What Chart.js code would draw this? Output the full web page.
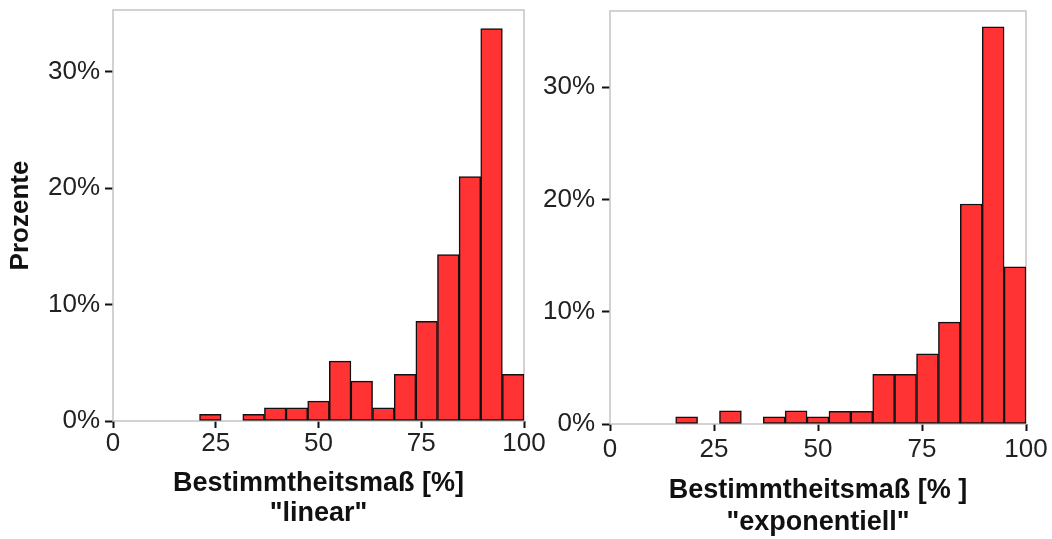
<!DOCTYPE html>
<html>
<head>
<meta charset="utf-8">
<script src="https://cdn.jsdelivr.net/npm/chart.js@4/dist/chart.umd.min.js"></script>
<style>
  body { margin: 0; background: #fff; }
  canvas { position: absolute; top: 0; }
</style>
</head>
<body>
<canvas id="chartLinear" width="560" height="539" style="left:0"></canvas>
<canvas id="chartExp" width="532" height="539" style="left:520px"></canvas>
<script>
// histogram bins (Bestimmtheitsmaß, 19 bins from 0 to 100)
const bins = ['0-5.3', '5.3-10.5', '10.5-15.8', '15.8-21.1', '21.1-26.3', '26.3-31.6',
  '31.6-36.8', '36.8-42.1', '42.1-47.4', '47.4-52.6', '52.6-57.9', '57.9-63.2',
  '63.2-68.4', '68.4-73.7', '73.7-78.9', '78.9-84.2', '84.2-89.5', '89.5-94.7', '94.7-100'];

// percentages per bin
const linearValues = [null, null, null, null, 0.57, null, 0.57, 1.14, 1.14, 1.71,
  5.14, 3.43, 1.14, 4.0, 8.57, 14.29, 21.0, 33.7, 4.0];
const expValues = [null, null, null, 0.65, null, 1.18, null, 0.65, 1.18, 0.65,
  1.12, 1.12, 4.42, 4.42, 6.25, 9.08, 19.6, 35.4, 14.0];

const xTicks = [0, 25, 50, 75, 100];
const yTicks = [0, 10, 20, 30];

const FONT = '"Liberation Sans", Arial, Helvetica, sans-serif';

// light grey frame round the plot area
const framePlugin = {
  id: 'frame',
  beforeDatasetsDraw(chart) {
    const a = chart.chartArea;
    const ctx = chart.ctx;
    ctx.save();
    ctx.strokeStyle = '#c4c4c4';
    ctx.lineWidth = 1.5;
    ctx.strokeRect(a.left, a.top, a.right - a.left, a.bottom - a.top);
    ctx.restore();
  }
};

function makeHist(id, values, opt) {
  const ctx = document.getElementById(id).getContext('2d');
  return new Chart(ctx, {
    type: 'bar',
    data: {
      labels: bins,
      datasets: [{
        data: values,
        xAxisID: 'x',
        backgroundColor: '#ff3333',
        borderColor: '#111',
        borderWidth: 1.5,
        borderSkipped: false,
        barPercentage: 1,
        categoryPercentage: 1
      }]
    },
    options: {
      responsive: false,
      animation: false,
      layout: { padding: { top: opt.top, right: opt.right, left: 0, bottom: 0 } },
      plugins: { legend: { display: false }, tooltip: { enabled: false } },
      scales: {
        x: { type: 'category', display: false },
        x2: {
          type: 'linear',
          position: 'bottom',
          min: 0,
          max: 100,
          offset: false,
          afterBuildTicks: s => { s.ticks = xTicks.map(v => ({ value: v })); },
          afterFit: s => { s.height = opt.xHeight; s.paddingLeft = 0; s.paddingRight = 0; },
          grid: { offset: false, drawOnChartArea: false, tickLength: 7, tickColor: '#111', tickWidth: 2 },
          border: { display: false },
          ticks: {
            padding: opt.xTickPad,
            color: '#222',
            maxRotation: 0,
            font: { family: FONT, size: 26, lineHeight: 1 }
          },
          title: {
            display: true,
            text: opt.xTitle,
            color: '#111',
            font: { family: FONT, size: 27, weight: 'bold', lineHeight: opt.titleLH },
            padding: { top: 0, bottom: opt.titlePad }
          }
        },
        y: {
          min: 0,
          max: opt.yMax,
          afterBuildTicks: s => { s.ticks = yTicks.map(v => ({ value: v })); },
          afterFit: s => { s.width = opt.yWidth; s.paddingTop = 0; s.paddingBottom = 0; },
          grid: { drawOnChartArea: false, tickLength: 8, tickColor: '#111', tickWidth: 2 },
          border: { display: false },
          ticks: {
            padding: opt.yTickPad,
            color: '#222',
            font: { family: FONT, size: 26 },
            callback: v => v + '%'
          },
          title: {
            display: opt.yTitle !== '',
            text: opt.yTitle,
            color: '#111',
            font: { family: FONT, size: 26, weight: 'bold', lineHeight: 1.15 },
            padding: { top: 6, bottom: 0 }
          }
        }
      }
    },
    plugins: [framePlugin]
  });
}

makeHist('chartLinear', linearValues, {
  top: 10, right: 36, xHeight: 118, yWidth: 113, yMax: 35.3,
  xTickPad: 3, yTickPad: 5, titleLH: 1.11, titlePad: 10,
  xTitle: ['Bestimmtheitsmaß [%]', '"linear"'], yTitle: 'Prozente'
});

makeHist('chartExp', expValues, {
  top: 11, right: 26, xHeight: 115, yWidth: 90, yMax: 36.8,
  xTickPad: 6, yTickPad: 7, titleLH: 1.18, titlePad: 1,
  xTitle: ['Bestimmtheitsmaß [% ]', '"exponentiell"'], yTitle: ''
});
</script>
</body>
</html>
